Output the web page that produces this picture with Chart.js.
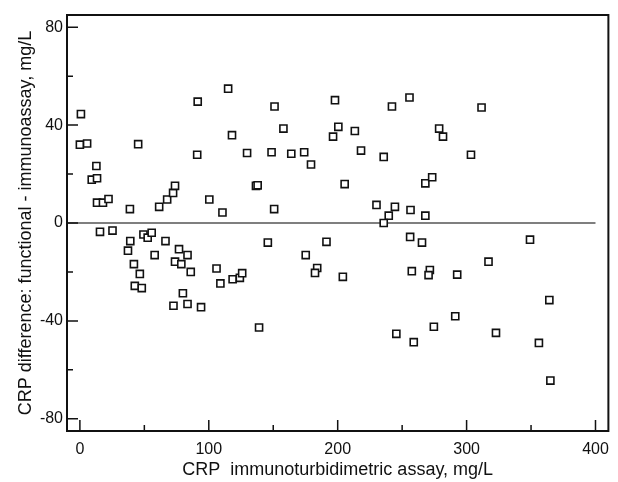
<!DOCTYPE html>
<html lang="en">
<head>
    <meta charset="UTF-8">
    <title>CRP difference plot</title>
    <script src="https://cdn.jsdelivr.net/npm/chart.js"></script>
    <style>
        body {
            margin: 0;
            background-color: #fff;
        }
        #wrap {
            width: 618px;
            height: 482px;
        }
    </style>
</head>
<body>
    <div id="wrap">
        <canvas id="myChart" width="618" height="482"></canvas>
    </div>

    <script>
        // CRP immunoturbidimetric assay (x) vs functional - immunoassay difference (y)
        const crpAssay = [
            0.8, 0, 5.6, 45.2, 12.8, 9.2, 13.3, 13.3, 17.9, 22.2,
            38.8, 61.5, 67.7, 72.3, 73.8, 91.4, 91, 115, 118, 129.7,
            100.4, 110.6, 136.6, 137.9, 151, 157.9, 148.7, 164, 174, 179.3,
            197.9, 200.5, 196.4, 213.3, 218.1, 235.7, 242.1, 255.7, 278.7, 281.7,
            205.4, 150.7, 230.1, 244.4, 239.6, 235.7, 256.5, 268, 273.3, 268,
            311.6, 303.4,
            15.6, 25.3, 39.1, 37.3, 41.9, 46.5, 42.6, 48, 49.3, 52.6,
            55.7, 58, 66.4, 76.9, 83.5, 73.8, 78.7, 86, 79.9, 72.6,
            83.5, 94, 106, 109, 118.5, 124.1, 125.9, 139, 145.8, 191.3,
            175.2, 184.1, 182.4, 204, 256.2, 265.4, 257.5, 271.5, 270.5, 245.5,
            259, 274.6, 349.2, 317, 292.7, 364.2, 291.2, 322.8, 356.1, 365
        ];
        const crpDiff = [
            44.5, 32, 32.5, 32.2, 23.3, 17.7, 18.3, 8.3, 8.3, 9.8,
            5.7, 6.6, 9.6, 12.3, 15.2, 49.6, 27.9, 54.9, 35.9, 28.6,
            9.6, 4.3, 15.2, 15.4, 47.6, 38.6, 28.9, 28.3, 28.9, 23.9,
            50.2, 39.3, 35.3, 37.6, 29.6, 27, 47.6, 51.3, 38.6, 35.3,
            15.9, 5.7, 7.4, 6.6, 3.0, 0, 5.3, 16.2, 18.7, 3.0,
            47.2, 27.9,
            -3.6, -3.1, -7.4, -11.3, -16.8, -20.8, -25.7, -26.6, -4.7, -6,
            -4, -13.1, -7.4, -10.7, -13.1, -15.8, -16.8, -20, -28.7, -33.8,
            -33.1, -34.4, -18.6, -24.7, -23, -22.4, -20.5, -42.7, -8, -7.7,
            -13.1, -18.4, -20.4, -22, -5.7, -8, -19.7, -19.2, -21.3, -45.3,
            -48.7, -42.4, -6.8, -15.8, -21.1, -31.5, -38.1, -44.9, -49, -64.4
        ];

        // 刻度
        const xTicks = [0, 100, 200, 300, 400];
        const xMinorTicks = [50, 150, 250, 350];
        const yTicks = [-80, -40, 0, 40, 80];
        const yMinorTicks = [-60, -20, 20, 60];
        const zeroLineX = [-10, 400];

        const ink = '#111';
        const tickFont = { family: "'Liberation Sans', Arial, sans-serif", size: 16 };
        const titleFont = { family: "'Liberation Sans', Arial, sans-serif", size: 18 };

        // 外框和向內的刻度線
        const frameTicks = {
            id: 'frameTicks',
            afterDraw(chart) {
                const { ctx, chartArea: a, scales: { x, y } } = chart;
                ctx.save();
                ctx.strokeStyle = ink;
                ctx.lineWidth = 1.5;
                ctx.beginPath();
                xTicks.forEach(v => { const p = x.getPixelForValue(v); ctx.moveTo(p, a.bottom); ctx.lineTo(p, a.bottom - 11); });
                xMinorTicks.forEach(v => { const p = x.getPixelForValue(v); ctx.moveTo(p, a.bottom); ctx.lineTo(p, a.bottom - 6); });
                yTicks.forEach(v => { const p = y.getPixelForValue(v); ctx.moveTo(a.left, p); ctx.lineTo(a.left + 11, p); });
                yMinorTicks.forEach(v => { const p = y.getPixelForValue(v); ctx.moveTo(a.left, p); ctx.lineTo(a.left + 6, p); });
                ctx.stroke();
                ctx.lineWidth = 2;
                ctx.strokeRect(a.left, a.top, a.right - a.left, a.bottom - a.top);
                ctx.restore();
            }
        };

        const ctx = document.getElementById('myChart').getContext('2d');
        new Chart(ctx, {
            type: 'scatter',
            data: {
                datasets: [
                    {
                        data: crpAssay.map((v, i) => ({ x: v, y: crpDiff[i] })),
                        pointStyle: 'rect',
                        pointRadius: 5,
                        pointBorderWidth: 1.6,
                        pointBorderColor: ink,
                        pointBackgroundColor: '#fff'
                    },
                    {
                        data: zeroLineX.map(v => ({ x: v, y: 0 })),
                        showLine: true,
                        borderColor: '#000',
                        borderWidth: 1.2,
                        pointRadius: 0
                    }
                ]
            },
            options: {
                responsive: false,
                animation: false,
                layout: { padding: { top: 15, right: 4, left: 0, bottom: 0 } },
                plugins: {
                    legend: { display: false },
                    tooltip: { enabled: false }
                },
                scales: {
                    x: {
                        type: 'linear',
                        min: -10,
                        max: 410,
                        afterBuildTicks: s => { s.ticks = xTicks.map(v => ({ value: v })); },
                        afterFit: s => { s.height = 51; },
                        grid: { display: false, drawTicks: false },
                        border: { display: false },
                        ticks: { color: ink, font: tickFont, padding: 9, maxRotation: 0 },
                        title: {
                            display: true,
                            text: 'CRP  immunoturbidimetric assay, mg/L',
                            color: ink,
                            font: titleFont,
                            padding: 1
                        }
                    },
                    y: {
                        type: 'linear',
                        min: -85,
                        max: 85,
                        afterBuildTicks: s => { s.ticks = yTicks.map(v => ({ value: v })); },
                        afterFit: s => { s.width = 67; },
                        grid: { display: false, drawTicks: false },
                        border: { display: false },
                        ticks: { color: ink, font: tickFont, padding: 4 },
                        title: {
                            display: true,
                            text: 'CRP difference: functional - immunoassay, mg/L',
                            color: ink,
                            font: titleFont,
                            padding: 15
                        }
                    }
                }
            },
            plugins: [frameTicks]
        });
    </script>
</body>
</html>
